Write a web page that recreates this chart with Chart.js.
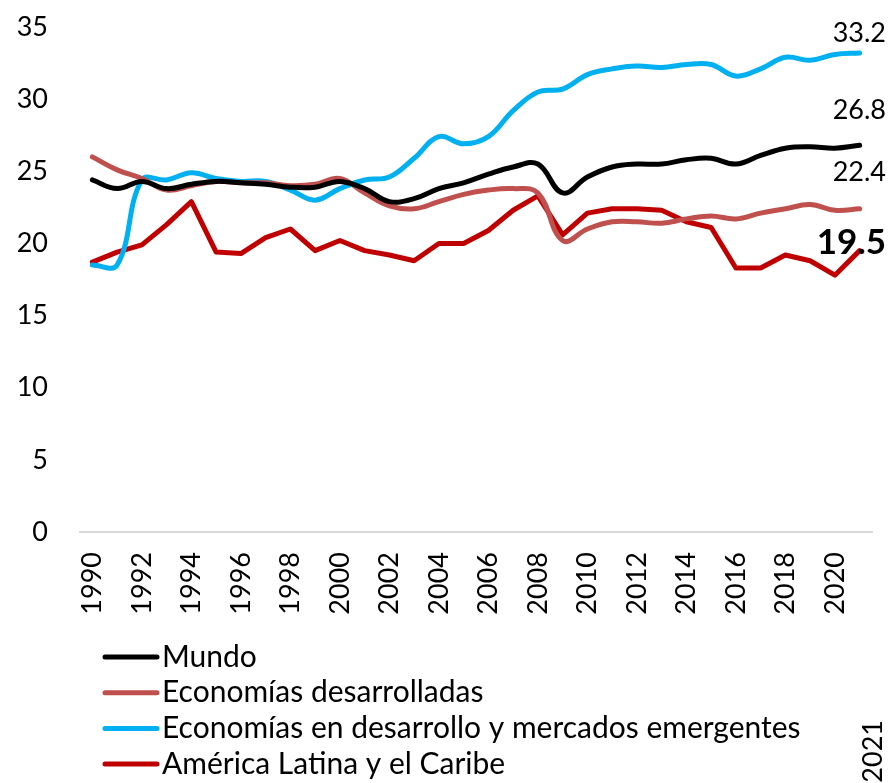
<!DOCTYPE html>
<html>
<head>
<meta charset="utf-8">
<script src="https://cdn.jsdelivr.net/npm/chart.js@4"></script>
<style>
  html, body { margin: 0; padding: 0; background: #fff; }
  #wrap { width: 889px; height: 783px; }
</style>
</head>
<body>
<div id="wrap"><canvas id="myChart" width="889" height="783"></canvas></div>
<script>
var years = [];
for (var y = 1990; y <= 2021; y++) years.push(String(y));

var mundo = [24.4, 23.8, 24.3, 23.8, 24.1, 24.3, 24.2, 24.1, 23.9, 23.9, 24.3, 23.8,
  22.9, 23.1, 23.8, 24.2, 24.8, 25.3, 25.5, 23.5, 24.6, 25.3, 25.5, 25.5, 25.8, 25.9,
  25.5, 26.1, 26.6, 26.7, 26.6, 26.8];
var desarrolladas = [26.0, 25.1, 24.5, 23.7, 24.0, 24.3, 24.2, 24.2, 24.0, 24.1, 24.5, 23.5,
  22.6, 22.4, 22.9, 23.4, 23.7, 23.8, 23.5, 20.2, 21.0, 21.5, 21.5, 21.4, 21.7, 21.9,
  21.7, 22.1, 22.4, 22.7, 22.3, 22.4];
var emergentes = [18.5, 18.5, 24.4, 24.4, 24.9, 24.5, 24.3, 24.3, 23.7, 23.0, 23.8, 24.4,
  24.6, 25.9, 27.4, 26.9, 27.4, 29.2, 30.5, 30.7, 31.7, 32.1, 32.3, 32.2, 32.4, 32.4,
  31.6, 32.1, 32.9, 32.7, 33.1, 33.2];
var latam = [18.7, 19.4, 19.9, 21.3, 22.9, 19.4, 19.3, 20.4, 21.0, 19.5, 20.2, 19.5,
  19.2, 18.8, 20.0, 20.0, 20.9, 22.3, 23.3, 20.6, 22.1, 22.4, 22.4, 22.3, 21.5, 21.1,
  18.3, 18.3, 19.2, 18.8, 17.8, 19.5];

var yTicks = [0, 5, 10, 15, 20, 25, 30, 35];

var FONT = "Lato";

// etiquetas finales (desplazamiento vertical, negrita)
var endLabels = [
  { ds: 0, dy: -35, bold: false },
  { ds: 1, dy: -37, bold: false },
  { ds: 2, dy: -20, bold: false },
  { ds: 3, dy: -8, bold: true }
];

var extras = {
  id: "extras",
  afterDatasetsDraw: function (chart) {
    var ctx = chart.ctx;
    ctx.save();
    ctx.fillStyle = "#000";
    ctx.textAlign = "right";
    ctx.textBaseline = "middle";
    endLabels.forEach(function (l) {
      var meta = chart.getDatasetMeta(l.ds);
      var pt = meta.data[meta.data.length - 1];
      var v = chart.data.datasets[l.ds].data[meta.data.length - 1];
      ctx.font = (l.bold ? "bold 35px " : "27px ") + FONT;
      ctx.fillText(v.toFixed(1), 886, pt.y + l.dy);
    });

    // leyenda
    ctx.textAlign = "left";
    ctx.font = "30px " + FONT;
    chart.data.datasets.forEach(function (ds, i) {
      var cy = 657 + i * 35.7;
      ctx.strokeStyle = ds.borderColor;
      ctx.lineWidth = 5;
      ctx.lineCap = "round";
      ctx.beginPath();
      ctx.moveTo(105, cy);
      ctx.lineTo(157, cy);
      ctx.stroke();
      ctx.fillText(ds.label, 162, cy);
    });

    // 2021
    var xs = chart.scales.x;
    ctx.translate(xs.getPixelForValue(31) + 14, 720);
    ctx.rotate(-Math.PI / 2);
    ctx.textAlign = "right";
    ctx.font = "27px " + FONT;
    ctx.fillText(years[31], 0, 0);
    ctx.restore();
  }
};

var ctx = document.getElementById("myChart").getContext("2d");
var myChart = new Chart(ctx, {
  type: "line",
  data: {
    labels: years,
    datasets: [
      { label: "Mundo", data: mundo, borderColor: "#000000", tension: 0.4 },
      { label: "Economías desarrolladas", data: desarrolladas, borderColor: "#C0504D", tension: 0.4 },
      { label: "Economías en desarrollo y mercados emergentes", data: emergentes, borderColor: "#00B0F0", tension: 0.4 },
      { label: "América Latina y el Caribe", data: latam, borderColor: "#C00000", tension: 0 }
    ]
  },
  options: {
    responsive: false,
    animation: false,
    devicePixelRatio: 1,
    layout: { padding: { top: 27, right: 17, bottom: 167, left: 0 } },
    elements: {
      point: { radius: 0 },
      line: { borderWidth: 5, borderCapStyle: "round", borderJoinStyle: "round" }
    },
    plugins: { legend: { display: false }, tooltip: { enabled: false } },
    scales: {
      x: {
        offset: true,
        afterFit: function (s) { s.height = 84; s.paddingLeft = 0; s.paddingRight = 0; },
        grid: { display: false, drawTicks: false },
        border: { color: "#D9D9D9", width: 2 },
        ticks: {
          autoSkip: false,
          maxRotation: 90,
          minRotation: 90,
          padding: 20,
          color: "#000",
          font: { family: FONT, size: 27 },
          callback: function (v, i) { return (i % 2 === 0 && i < 31) ? years[i] : ""; }
        }
      },
      y: {
        min: 0,
        max: 35,
        afterFit: function (s) { s.width = 80; s.paddingTop = 0; s.paddingBottom = 0; },
        afterBuildTicks: function (s) { s.ticks = yTicks.map(function (v) { return { value: v }; }); },
        grid: { display: false, drawTicks: false },
        border: { display: false },
        ticks: { padding: 32, color: "#000", font: { family: FONT, size: 27 } }
      }
    }
  },
  plugins: [extras]
});
</script>
</body>
</html>
